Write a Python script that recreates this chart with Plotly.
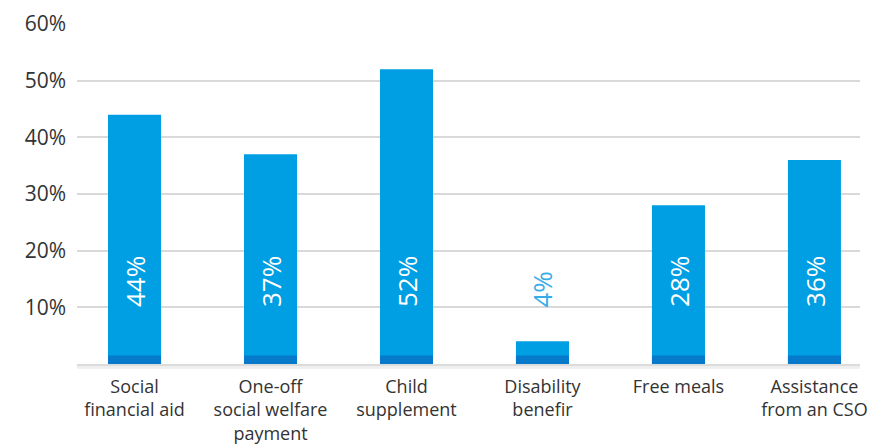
import plotly.graph_objects as go

# Share of households receiving each kind of support
categories = [
    "Social<br>financial aid",
    "One-off<br>social welfare<br>payment",
    "Child<br>supplement",
    "Disability<br>benefir",
    "Free meals",
    "Assistance<br>from an CSO",
]
values = [44, 37, 52, 4, 28, 36]
value_labels = ["44%", "37%", "52%", "4%", "28%", "36%"]
y_ticks = [10, 20, 30, 40, 50, 60]
y_tick_labels = ["10%", "20%", "30%", "40%", "50%", "60%"]

BAR = "#009FE3"
BAR_BASE = "#0679CB"
LABEL_OUT = "#36ACE8"
FONT = "Open Sans"
BASE_BAND = 1.5  # height of the darker foot on every bar

x = list(range(len(categories)))

fig = go.Figure()
fig.add_trace(go.Bar(
    x=x, y=values, width=0.39,
    marker=dict(color=BAR, line=dict(width=0)),
    hoverinfo="skip",
))
fig.add_trace(go.Bar(
    x=x, y=[min(BASE_BAND, v) for v in values], width=0.39,
    marker=dict(color=BAR_BASE, line=dict(width=0)),
    hoverinfo="skip",
))

# Rotated value labels, white inside tall bars, blue above short ones
for xi, v, lab in zip(x, values, value_labels):
    fig.add_annotation(
        x=xi, y=9.7, xref="x", yref="y",
        text=lab, textangle=-90, showarrow=False,
        xanchor="center", yanchor="bottom",
        font=dict(family=FONT, size=26, color="white" if v > 20 else LABEL_OUT),
    )

# Soft baseline shadow under the bars
fig.add_shape(type="rect", xref="paper", yref="paper", x0=0, x1=1, y0=0, y1=-0.006,
              line=dict(width=0), fillcolor="#dcdcdc", layer="below")
fig.add_shape(type="rect", xref="paper", yref="paper", x0=0, x1=1, y0=-0.006, y1=-0.014,
              line=dict(width=0), fillcolor="#eeeeee", layer="below")

fig.update_layout(
    width=893, height=445,
    margin=dict(l=77, r=33, t=24, b=81),
    barmode="overlay",
    showlegend=False,
    plot_bgcolor="white", paper_bgcolor="white",
    font=dict(family=FONT, color="#333333"),
    xaxis=dict(
        range=[-0.423, 5.335],
        tickmode="array", tickvals=x, ticktext=categories,
        showgrid=False, zeroline=False, showline=False, ticks="",
        tickfont=dict(family=FONT, size=18, color="#333333"),
        ticklabelstandoff=10, automargin=False,
    ),
    yaxis=dict(
        range=[0, 60],
        tickmode="array", tickvals=y_ticks, ticktext=y_tick_labels,
        showgrid=True, gridcolor="#d9d9d9", gridwidth=1.5,
        zeroline=False, showline=False, ticks="",
        tickfont=dict(family=FONT, size=21, color="#333333"),
        ticklabelstandoff=10, automargin=False,
    ),
)

fig.write_html("out.html")
